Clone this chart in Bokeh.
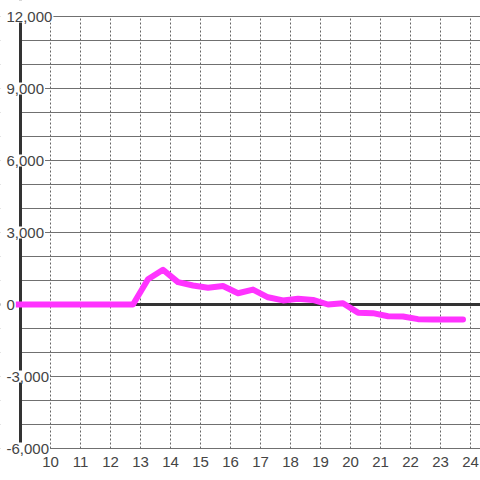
from bokeh.plotting import figure
from bokeh.models import (FixedTicker, Span, Label, LabelSet, ColumnDataSource,
                          Range1d, BoxAnnotation)
from bokeh.core.properties import value
from bokeh.embed import file_html
from bokeh.resources import INLINE

# ---- data ----
HOURS = [8.75, 9.25, 9.75, 10.25, 10.75, 11.25, 11.75, 12.25, 12.75,
         13.25, 13.75, 14.25, 14.75, 15.25, 15.75, 16.25, 16.75, 17.25,
         17.75, 18.25, 18.75, 19.25, 19.75, 20.25, 20.75, 21.25, 21.75,
         22.25, 22.75, 23.25, 23.75]
VALUES = [0, 0, 0, 0, 0, 0, 0, 0, 0,
          1050, 1450, 930, 790, 700, 770, 470, 620, 300,
          170, 240, 190, 0, 50, -340, -360, -490, -500,
          -610, -630, -630, -630]
X_TICKS = list(range(10, 25))
X_LABELS = [str(h) for h in X_TICKS]
Y_LABEL_TICKS = [-6000, -3000, 0, 3000, 6000, 9000, 12000]
Y_LABELS = ["-6,000", "-3,000", "0", "3,000", "6,000", "9,000", "12,000"]
Y_GRID_TICKS = list(range(-6000, 12001, 1000))

X_AXIS_POS = 9            # where the vertical axis line sits
Y_TOP_TICK = 12000
Y_BOTTOM_TICK = -6000
X_START, X_END = 8.3333, 24.3333
Y_START, Y_END = -7333.3, 12666.7
X_LABEL_ROW = -6550        # vertical position of the hour labels

FONT = "Liberation Sans"
TEXT_COLOR = "#444444"
AXIS_COLOR = "#333333"

p = figure(width=480, height=480,
           x_range=Range1d(X_START, X_END), y_range=Range1d(Y_START, Y_END),
           x_axis_location=None, y_axis_location=None,
           output_backend="svg", toolbar_location=None,
           min_border_left=0, min_border_right=0,
           min_border_top=0, min_border_bottom=0)
p.outline_line_color = None
p.background_fill_color = "white"
p.border_fill_color = "white"

# grids
p.xgrid.ticker = FixedTicker(ticks=X_TICKS)
p.xgrid.grid_line_color = "#666666"
p.xgrid.grid_line_dash = "2 2"
p.xgrid.grid_line_width = 1
p.ygrid.ticker = FixedTicker(ticks=Y_GRID_TICKS)
p.ygrid.grid_line_color = "#707070"
p.ygrid.grid_line_width = 1

# zero line
p.add_layout(Span(location=0, dimension="width", line_color=AXIS_COLOR,
                  line_width=3, level="underlay"))
# blank margin left of the axis
p.add_layout(BoxAnnotation(right=X_AXIS_POS, fill_color="white", fill_alpha=1.0,
                           line_color=None, level="underlay"))
# vertical axis line
p.add_layout(Span(location=X_AXIS_POS, dimension="height", line_color=AXIS_COLOR,
                  line_width=3, level="underlay"))
# blank margins above and below the grid
p.add_layout(BoxAnnotation(bottom=Y_TOP_TICK + 25, fill_color="white", fill_alpha=1.0,
                           line_color=None, level="underlay"))
p.add_layout(BoxAnnotation(top=Y_BOTTOM_TICK - 25, fill_color="white", fill_alpha=1.0,
                           line_color=None, level="underlay"))

# series
p.line(HOURS, VALUES, line_color="#ff33ff", line_width=6,
       line_join="round", line_cap="round")

# y tick labels (drawn over the axis line with white background)
for v, t in zip(Y_LABEL_TICKS, Y_LABELS):
    p.add_layout(Label(x=5, y=v, text=t, x_units="screen",
                       text_align="left", text_baseline="middle",
                       text_font=FONT, text_font_size="15px",
                       text_color=TEXT_COLOR,
                       background_fill_color="white", background_fill_alpha=1.0,
                       padding=1))

# hour labels
xsrc = ColumnDataSource(dict(x=X_TICKS, text=X_LABELS))
p.add_layout(LabelSet(x="x", y=X_LABEL_ROW, text="text", source=xsrc,
                      text_align="center", text_baseline="middle",
                      text_font=value(FONT), text_font_size="15px",
                      text_color=TEXT_COLOR))

open("out.html", "w").write(file_html(p, INLINE))
